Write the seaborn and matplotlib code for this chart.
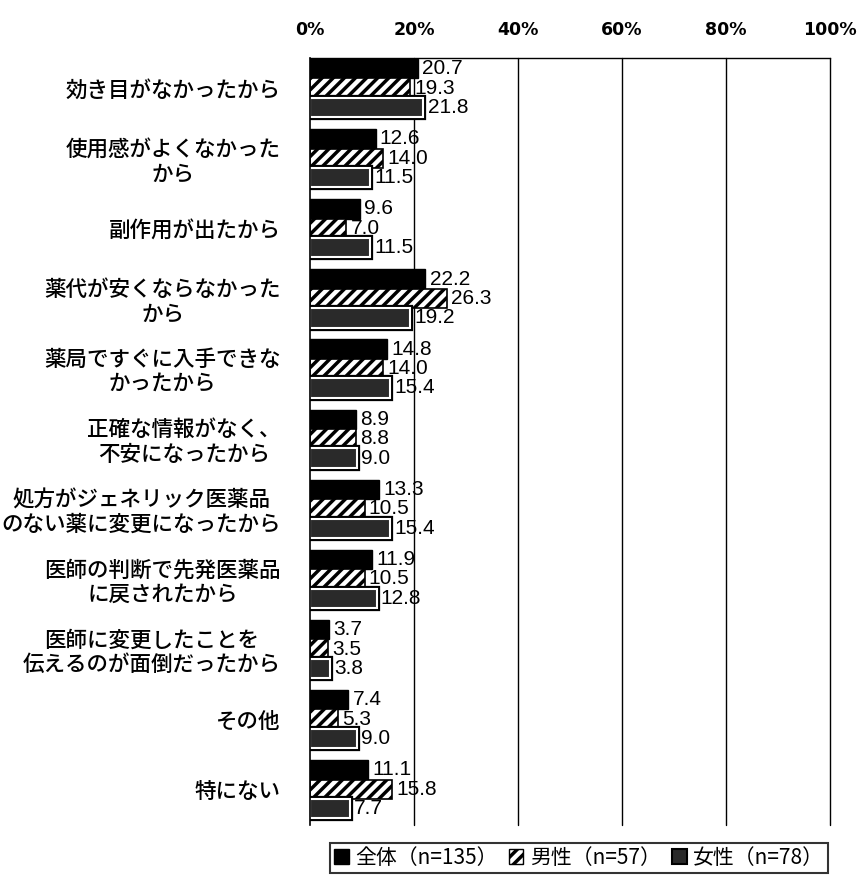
import matplotlib
matplotlib.use("Agg")
import matplotlib.pyplot as plt
import seaborn as sns
import pandas as pd
from matplotlib import patheffects as pe
from matplotlib.patches import Patch

categories = [
    "効き目がなかったから",
    "使用感がよくなかった\nから",
    "副作用が出たから",
    "薬代が安くならなかった\nから",
    "薬局ですぐに入手できな\nかったから",
    "正確な情報がなく、\n不安になったから",
    "処方がジェネリック医薬品\nのない薬に変更になったから",
    "医師の判断で先発医薬品\nに戻されたから",
    "医師に変更したことを\n伝えるのが面倒だったから",
    "その他",
    "特にない",
]
series = ["全体（n=135）", "男性（n=57）", "女性（n=78）"]
all_vals = [20.7, 12.6, 9.6, 22.2, 14.8, 8.9, 13.3, 11.9, 3.7, 7.4, 11.1]
male_vals = [19.3, 14.0, 7.0, 26.3, 14.0, 8.8, 10.5, 10.5, 3.5, 5.3, 15.8]
female_vals = [21.8, 11.5, 11.5, 19.2, 15.4, 9.0, 15.4, 12.8, 3.8, 9.0, 7.7]
xticks = [0, 20, 40, 60, 80, 100]
xtick_labels = ["0%", "20%", "40%", "60%", "80%", "100%"]

rows = []
for s, vals in zip(series, [all_vals, male_vals, female_vals]):
    for c, v in zip(categories, vals):
        rows.append({"cat": c, "series": s, "val": v})
df = pd.DataFrame(rows)

sns.set_style("white")
plt.rcParams["font.family"] = ["Noto Sans CJK JP", "DejaVu Sans"]
plt.rcParams["hatch.linewidth"] = 2.5
plt.rcParams["text.color"] = "black"
plt.rcParams["xtick.color"] = "black"
plt.rcParams["ytick.color"] = "black"

num_font = ["Liberation Sans Narrow", "Liberation Sans", "DejaVu Sans"]

fig = plt.figure(figsize=(8.57, 8.76), dpi=100)
ax = fig.add_axes([310 / 857, 1 - 825 / 876, 520 / 857, (825 - 58) / 876])

sns.barplot(data=df, y="cat", x="val", hue="series", orient="h",
            order=categories, hue_order=series, width=0.83,
            palette=["black", "white", "#222222"], ax=ax, legend=False,
            saturation=1)

conts = ax.containers
for p in conts[0]:
    p.set_facecolor("black")
    p.set_edgecolor("black")
for p in conts[1]:
    p.set_facecolor("white")
    p.set_edgecolor("black")
    p.set_hatch("///")
    p.set_linewidth(1.2)
for p in conts[2]:
    p.set_facecolor("#2a2a2a")
    p.set_edgecolor("white")
    p.set_linewidth(1.5)
    p.set_path_effects([pe.Stroke(linewidth=4.5, foreground="black"), pe.Normal()])

for cont in conts:
    ax.bar_label(cont, fmt="%.1f", padding=3, fontsize=15, family=num_font,
                 color="black")

ax.set_xlim(0, 100)
ax.set_ylim(len(categories) - 0.49, -0.43)
ax.set_xticks(xticks)
ax.set_xticklabels(xtick_labels, fontsize=12.5, fontweight="bold",
                   family=["Liberation Sans Narrow", "DejaVu Sans"])
ax.xaxis.tick_top()
ax.tick_params(axis="x", length=0, pad=14)
ax.tick_params(axis="y", length=0, pad=21)
for lbl in ax.get_yticklabels():
    lbl.set_fontsize(15.5)
    lbl.set_fontweight("medium")
    lbl.set_multialignment("center")
    lbl.set_linespacing(1.15)
    lbl.set_color("black")
ax.set_xlabel("")
ax.set_ylabel("")
for x in xticks[1:]:
    ax.axvline(x, color="black", lw=1.0, zorder=0, clip_on=False)
for side in ["right", "bottom"]:
    ax.spines[side].set_visible(False)
ax.spines["left"].set_color("black")
ax.spines["left"].set_linewidth(1.2)
ax.spines["top"].set_color("black")
ax.spines["top"].set_linewidth(1.0)
ax.grid(False)

handles = [
    Patch(facecolor="black", edgecolor="black"),
    Patch(facecolor="white", edgecolor="black", hatch="///"),
    Patch(facecolor="#2a2a2a", edgecolor="black", linewidth=1.5),
]
leg = fig.legend(handles, series, ncol=3, loc="center",
                 bbox_to_anchor=(579 / 857, 1 - 858 / 876), frameon=True,
                 fontsize=15, handlelength=0.7, handleheight=0.7,
                 handletextpad=0.3, columnspacing=0.55, borderpad=0.2,
                 fancybox=False)
leg.get_frame().set_edgecolor("black")
leg.get_frame().set_linewidth(1.5)

fig.savefig("out.png", dpi=100)
